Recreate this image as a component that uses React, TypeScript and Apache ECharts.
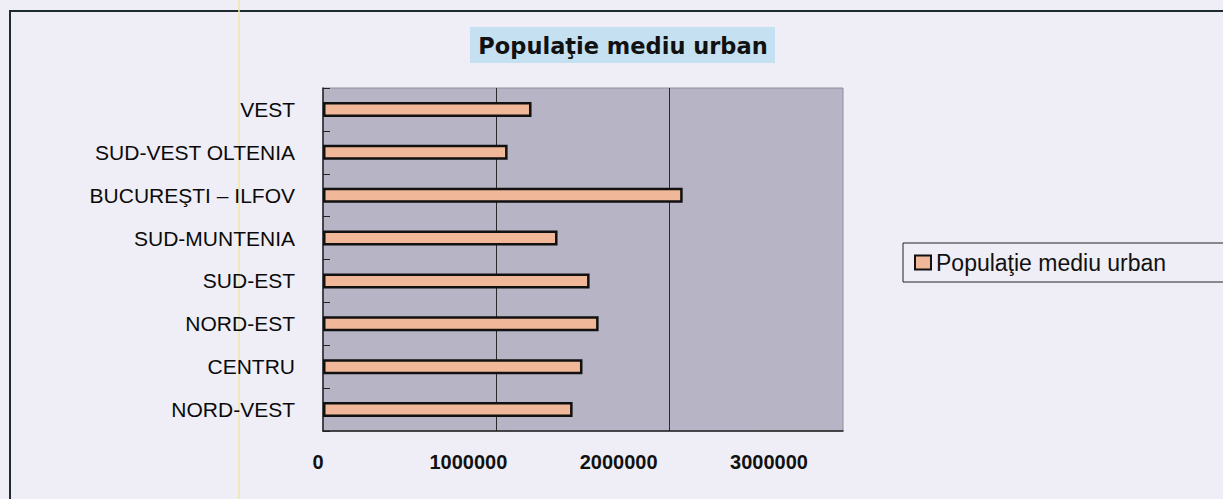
import React, { useEffect, useRef } from "react";
import * as echarts from "echarts";

const categories = [
  "NORD-VEST",
  "CENTRU",
  "NORD-EST",
  "SUD-EST",
  "SUD-MUNTENIA",
  "BUCUREŞTI – ILFOV",
  "SUD-VEST OLTENIA",
  "VEST",
];
const urbanPopulation = [1440000, 1497000, 1590000, 1538000, 1353000, 2075000, 1065000, 1203000];
const seriesName = "Populaţie mediu urban";
const chartTitle = "Populaţie mediu urban";
const xMin = 0;
const xMax = 3000000;
const xInterval = 1000000;

export default function App() {
  const ref = useRef<HTMLDivElement>(null);
  useEffect(() => {
    if (!ref.current) return;
    const chart = echarts.init(ref.current, null, { renderer: "svg" });
    const font = "Liberation Sans, Arial, sans-serif";
    chart.setOption({
      animation: false,
      backgroundColor: "#efeef6",
      graphic: [
        {
          type: "rect",
          shape: { x: 10, y: 11, width: 1300, height: 600 },
          style: { fill: "none", stroke: "#1e2a30", lineWidth: 2 },
          z: 0,
        },
        {
          type: "line",
          shape: { x1: 239, y1: 0, x2: 239, y2: 499 },
          style: { stroke: "#f2e6a4", lineWidth: 1.5 },
          z: 0,
        },
        {
          type: "rect",
          shape: { x: 470, y: 27, width: 305, height: 36 },
          style: { fill: "#c5e0f1" },
          z: 1,
        },
        {
          type: "text",
          x: 623,
          y: 46,
          z: 2,
          style: {
            text: chartTitle,
            fill: "#111",
            font: "bold 22.5px DejaVu Sans, sans-serif",
            textAlign: "center",
            textVerticalAlign: "middle",
          },
        },
      ],
      legend: {
        show: true,
        left: 903,
        top: 243,
        orient: "vertical",
        padding: [8, 60, 8, 11],
        borderColor: "#222",
        borderWidth: 1,
        icon: "rect",
        itemWidth: 16,
        itemHeight: 14,
        textStyle: { fontFamily: font, fontSize: 23, color: "#111", lineHeight: 22 },
        data: [seriesName],
      },
      grid: [
        {
          left: 323,
          top: 88,
          width: 520,
          height: 343,
          show: true,
          backgroundColor: "#b6b4c5",
          borderColor: "#8e8c9c",
          borderWidth: 1,
        },
        {
          left: 318,
          top: 88,
          width: 451,
          height: 343,
          show: false,
        },
      ],
      xAxis: [
        {
          gridIndex: 0,
          type: "value",
          min: xMin,
          max: xMax,
          interval: xInterval,
          axisLine: { show: true, lineStyle: { color: "#222", width: 1.5 } },
          axisTick: { show: false },
          axisLabel: { show: false },
          splitLine: {
            show: true,
            lineStyle: { color: ["rgba(0,0,0,0)", "#2a2a2a", "#2a2a2a", "rgba(0,0,0,0)"], width: 1 },
          },
        },
        {
          gridIndex: 1,
          type: "value",
          min: xMin,
          max: xMax,
          interval: xInterval,
          axisLine: { show: false },
          axisTick: { show: false },
          splitLine: { show: false },
          axisLabel: {
            show: true,
            margin: 21,
            fontFamily: font,
            fontWeight: "bold",
            fontSize: 20,
            color: "#111",
            formatter: (v: number) => String(v),
          },
        },
      ],
      yAxis: [
        {
          gridIndex: 0,
          type: "category",
          data: categories,
          axisLine: { show: true, lineStyle: { color: "#222", width: 1.5 } },
          axisTick: { show: true, inside: true, length: 7, lineStyle: { color: "#222" } },
          axisLabel: {
            margin: 28,
            fontFamily: font,
            fontSize: 21,
            color: "#0a0a0a",
          },
          splitLine: { show: false },
        },
        {
          gridIndex: 1,
          type: "category",
          data: categories,
          show: false,
        },
      ],
      series: [
        {
          name: seriesName,
          type: "bar",
          xAxisIndex: 0,
          yAxisIndex: 0,
          data: urbanPopulation,
          barWidth: 15,
          itemStyle: { color: "#f0b898", borderColor: "#111", borderWidth: 2.5 },
        },
      ],
    });
    return () => chart.dispose();
  }, []);
  return (
    <div
      ref={ref}
      style={{ position: "fixed", left: 0, top: 0, width: 1223, height: 499 }}
    />
  );
}
